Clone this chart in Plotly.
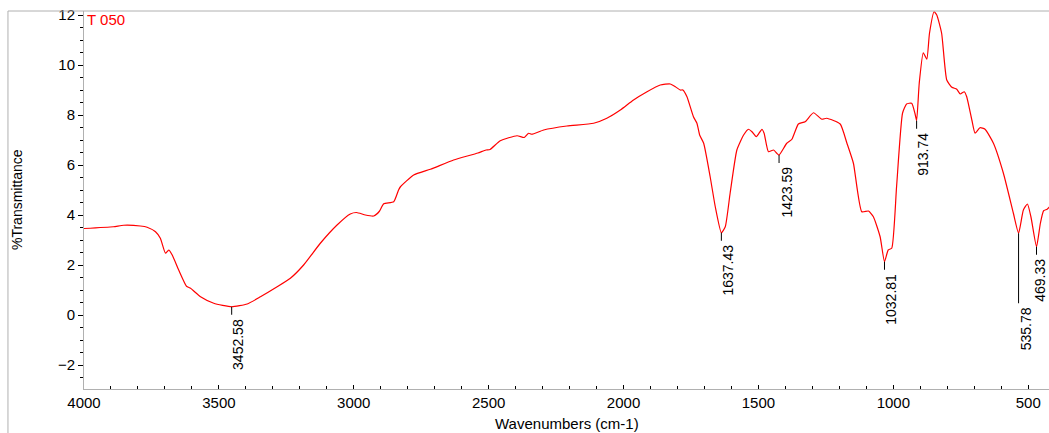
import plotly.graph_objects as go

# FTIR spectrum of sample T 050
wavenumber = [
    4000, 3891, 3853, 3791, 3766, 3735, 3717, 3698, 3686, 3673, 3649, 3620, 3605,
    3568, 3519, 3452.58, 3395, 3346, 3284, 3235, 3186, 3124, 3062, 3013, 2990,
    2957, 2926, 2905, 2889, 2852, 2834, 2827, 2778, 2716, 2630, 2540, 2510, 2495,
    2457, 2395, 2368, 2352, 2340, 2296, 2210, 2111, 2062, 2012, 1963, 1913, 1864,
    1827, 1808, 1790, 1780, 1765, 1741, 1728, 1718, 1703, 1679, 1660, 1637.43,
    1623, 1605, 1580, 1555, 1537, 1524, 1508, 1487, 1479, 1463, 1444, 1432,
    1423.59, 1395, 1376, 1352, 1327, 1296, 1265, 1247, 1197, 1172, 1148, 1117,
    1092, 1074, 1049, 1032.81, 1019, 1006, 988, 966, 951, 932, 920, 913.74, 904,
    889, 876, 866, 849, 839, 821, 802, 783, 765, 752, 737, 728, 709, 697, 679,
    660, 629, 592, 555, 535.78, 518, 503, 490, 469.33, 455, 443, 430, 421,
]
transmittance = [
    3.46, 3.53, 3.59, 3.56, 3.51, 3.33, 3.07, 2.47, 2.60, 2.40, 1.80, 1.15, 1.07,
    0.73, 0.47, 0.33, 0.44, 0.73, 1.13, 1.47, 2.00, 2.87, 3.60, 4.04, 4.10,
    4.00, 3.96, 4.15, 4.45, 4.53, 5.00, 5.13, 5.60, 5.83, 6.20, 6.48, 6.60, 6.62,
    6.97, 7.17, 7.10, 7.27, 7.23, 7.40, 7.56, 7.67, 7.87, 8.20, 8.60, 8.93, 9.20,
    9.24, 9.13, 9.00, 9.00, 8.73, 7.93, 7.67, 7.20, 6.87, 5.53, 4.33, 3.29,
    3.53, 4.87, 6.60, 7.20, 7.43, 7.33, 7.13, 7.43, 7.27, 6.53, 6.60, 6.47,
    6.40, 6.87, 7.03, 7.64, 7.73, 8.09, 7.83, 7.87, 7.64, 6.87, 6.07, 4.13,
    4.16, 3.93, 3.13, 2.13, 2.60, 2.67, 5.13, 8.07, 8.44, 8.47, 8.07, 7.77, 9.27,
    10.49, 10.23, 11.27, 12.13, 12.00, 11.27, 9.40, 9.11, 9.03, 8.84, 8.93, 8.73, 7.80, 7.27, 7.49,
    7.43, 6.87, 5.67, 4.07, 3.27, 4.20, 4.44, 3.93, 2.73, 3.67, 4.17, 4.23, 4.33,
]

# Labelled absorption minima
peak_wn = [3452.58, 1637.43, 1423.59, 1032.81, 913.74, 535.78, 469.33]
peak_t = [0.33, 3.29, 6.40, 2.13, 7.77, 3.27, 2.73]
peak_text = ["3452.58", "1637.43", "1423.59", "1032.81", "913.74", "535.78", "469.33"]
leader_px = [8, 8, 8, 8, 8, 70, 8]
label_dx = [-3, -3, -3, -3, -3, -3, -6]

x_ticks = [4000, 3500, 3000, 2500, 2000, 1500, 1000, 500]
y_ticks = [-2, 0, 2, 4, 6, 8, 10, 12]

FONT = "Liberation Sans, Arial, sans-serif"
RED = "#ff0000"
GREY = "#b0b0b0"

fig = go.Figure()
fig.add_trace(go.Scatter(
    x=wavenumber, y=transmittance, mode="lines",
    line=dict(color=RED, width=1.2, shape="spline", smoothing=0.5),
    hoverinfo="skip", showlegend=False,
))

shapes = []
annotations = []
for wn, t, txt, lead, dx in zip(peak_wn, peak_t, peak_text, leader_px, label_dx):
    shapes.append(dict(
        type="line", xref="x", yref="y", ysizemode="pixel", yanchor=t,
        x0=wn, x1=wn, y0=0, y1=-lead,
        line=dict(color="black", width=1),
    ))
    annotations.append(dict(
        x=wn, y=t, xref="x", yref="y", text=txt, showarrow=False,
        textangle=-90, xanchor="left", yanchor="top",
        xshift=dx, yshift=-(lead + 2),
        font=dict(family=FONT, size=14, color="black"),
    ))

# outer frame (top and left edges)
shapes.append(dict(type="line", xref="paper", yref="paper",
                   x0=-0.0788, x1=1.0, y0=1, y1=1, line=dict(color=GREY, width=1)))
shapes.append(dict(type="line", xref="paper", yref="paper",
                   x0=-0.0788, x1=-0.0788, y0=1, y1=-0.2, line=dict(color=GREY, width=1)))

annotations += [
    dict(text="T 050", xref="paper", yref="paper", x=0.001, y=0.977,
         xanchor="left", yanchor="middle", showarrow=False,
         font=dict(family=FONT, size=15, color=RED)),
    dict(text="%Transmittance", xref="paper", yref="paper", x=-0.0694, y=0.5,
         xanchor="center", yanchor="middle", textangle=-90, showarrow=False,
         font=dict(family=FONT, size=14, color="black")),
    dict(text="Wavenumbers (cm-1)", xref="paper", yref="paper", x=0.5, y=-0.09,
         xanchor="center", yanchor="middle", showarrow=False,
         font=dict(family=FONT, size=15, color="black")),
]

fig.update_layout(
    width=1049, height=433,
    margin=dict(l=84, r=0, t=11, b=44),
    paper_bgcolor="white", plot_bgcolor="white",
    font=dict(family=FONT, size=15, color="black"),
    shapes=shapes, annotations=annotations,
    xaxis=dict(
        range=[4000, 423], tickvals=x_ticks, ticks="inside", ticklen=4,
        tickcolor="black", showline=True, linecolor=GREY, linewidth=1,
        showgrid=False, zeroline=False,
        minor=dict(dtick=100, tick0=0, ticks="inside", ticklen=3, tickcolor="black", showgrid=False),
        tickfont=dict(family=FONT, size=15),
    ),
    yaxis=dict(
        range=[-2.96, 12.16], tickvals=y_ticks, ticks="outside", ticklen=5,
        tickcolor="black", showline=True, linecolor=GREY, linewidth=1,
        showgrid=False, zeroline=False,
        minor=dict(dtick=0.5, tick0=0, ticks="outside", ticklen=3, tickcolor="black", showgrid=False),
        tickfont=dict(family=FONT, size=15),
    ),
)

fig.write_html("out.html")
